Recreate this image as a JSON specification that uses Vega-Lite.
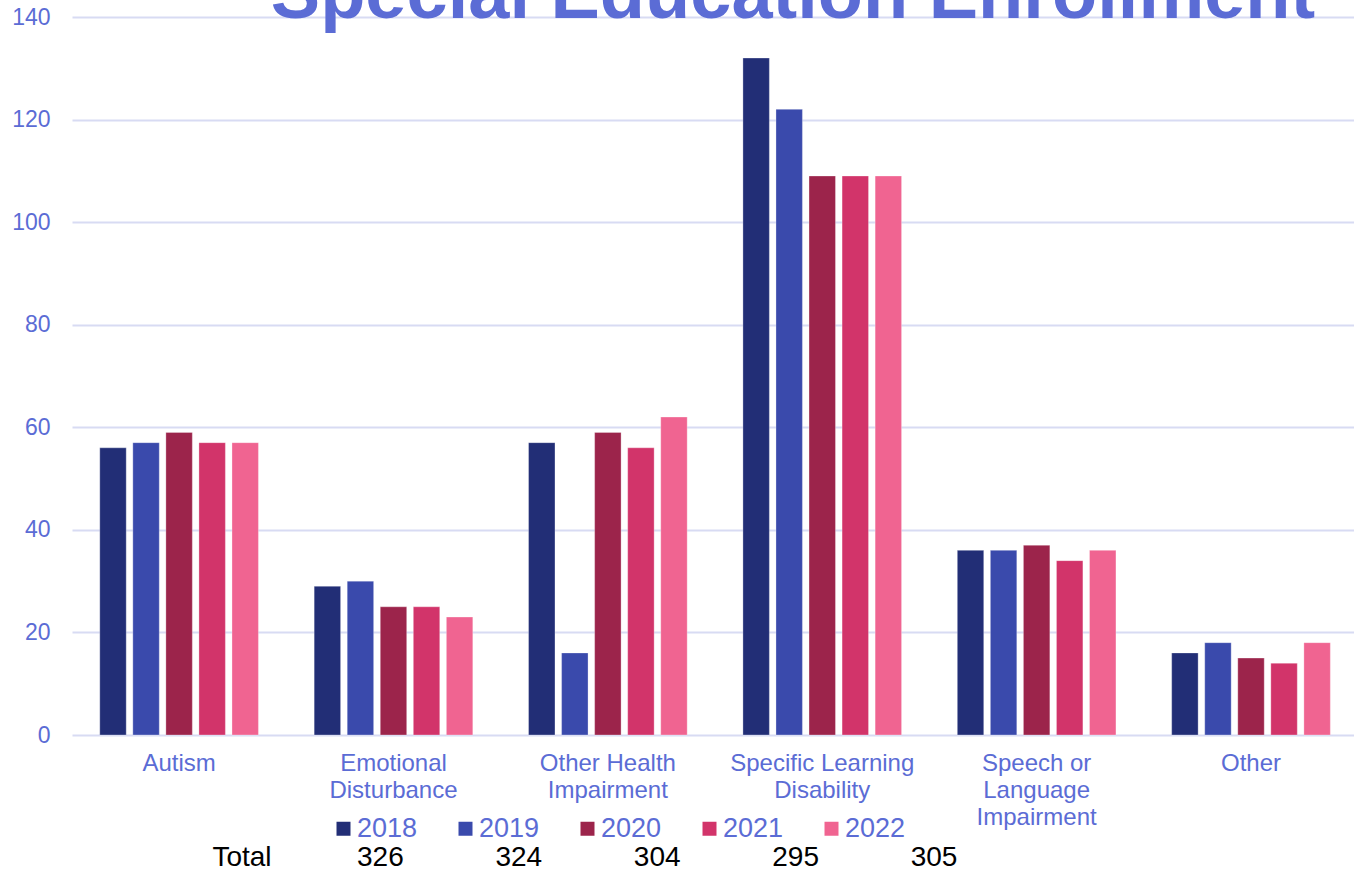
{
  "$schema": "https://vega.github.io/schema/vega-lite/v6.json",
  "autosize": "none",
  "width": 1282,
  "height": 718,
  "padding": {"left": 72, "top": 17, "right": 0, "bottom": 137},
  "background": "white",
  "config": {"font": "Liberation Sans", "view": {"stroke": null}},
  "title": {
    "text": "Special Education Enrollment",
    "font": "Liberation Sans",
    "fontSize": 74,
    "fontWeight": "bold",
    "color": "#5b6cd5",
    "anchor": "middle",
    "frame": "group",
    "offset": -86,
    "baseline": "alphabetic",
    "dx": 80
  },
  "datasets": {
    "enrollment": [
      {"category": "Autism", "year": "2018", "count": 56},
      {"category": "Autism", "year": "2019", "count": 57},
      {"category": "Autism", "year": "2020", "count": 59},
      {"category": "Autism", "year": "2021", "count": 57},
      {"category": "Autism", "year": "2022", "count": 57},
      {"category": "Emotional Disturbance", "year": "2018", "count": 29},
      {"category": "Emotional Disturbance", "year": "2019", "count": 30},
      {"category": "Emotional Disturbance", "year": "2020", "count": 25},
      {"category": "Emotional Disturbance", "year": "2021", "count": 25},
      {"category": "Emotional Disturbance", "year": "2022", "count": 23},
      {"category": "Other Health Impairment", "year": "2018", "count": 57},
      {"category": "Other Health Impairment", "year": "2019", "count": 16},
      {"category": "Other Health Impairment", "year": "2020", "count": 59},
      {"category": "Other Health Impairment", "year": "2021", "count": 56},
      {"category": "Other Health Impairment", "year": "2022", "count": 62},
      {"category": "Specific Learning Disability", "year": "2018", "count": 132},
      {"category": "Specific Learning Disability", "year": "2019", "count": 122},
      {"category": "Specific Learning Disability", "year": "2020", "count": 109},
      {"category": "Specific Learning Disability", "year": "2021", "count": 109},
      {"category": "Specific Learning Disability", "year": "2022", "count": 109},
      {"category": "Speech or Language Impairment", "year": "2018", "count": 36},
      {"category": "Speech or Language Impairment", "year": "2019", "count": 36},
      {"category": "Speech or Language Impairment", "year": "2020", "count": 37},
      {"category": "Speech or Language Impairment", "year": "2021", "count": 34},
      {"category": "Speech or Language Impairment", "year": "2022", "count": 36},
      {"category": "Other", "year": "2018", "count": 16},
      {"category": "Other", "year": "2019", "count": 18},
      {"category": "Other", "year": "2020", "count": 15},
      {"category": "Other", "year": "2021", "count": 14},
      {"category": "Other", "year": "2022", "count": 18}
    ],
    "totals": [
      {"col": "Total", "label": "Total"},
      {"col": "2018", "label": "326"},
      {"col": "2019", "label": "324"},
      {"col": "2020", "label": "304"},
      {"col": "2021", "label": "295"},
      {"col": "2022", "label": "305"}
    ]
  },
  "layer": [
    {
      "data": {"name": "enrollment"},
      "mark": {"type": "bar", "stroke": "#ffffff", "strokeWidth": 0.6, "strokeOpacity": 0.5},
      "encoding": {
        "x": {
          "field": "category",
          "type": "nominal",
          "sort": ["Autism", "Emotional Disturbance", "Other Health Impairment", "Specific Learning Disability", "Speech or Language Impairment", "Other"],
          "scale": {"paddingInner": 0.26, "paddingOuter": 0.12, "align": 0.54},
          "axis": {
            "title": null,
            "domain": false,
            "ticks": false,
            "labelAngle": 0,
            "labelColor": "#5b6cd5",
            "labelFontSize": 24,
            "labelPadding": 16,
            "labelLineHeight": 27,
            "labelLimit": 0,
            "labelExpr": "datum.label == 'Emotional Disturbance' ? ['Emotional', 'Disturbance'] : datum.label == 'Other Health Impairment' ? ['Other Health', 'Impairment'] : datum.label == 'Specific Learning Disability' ? ['Specific Learning', 'Disability'] : datum.label == 'Speech or Language Impairment' ? ['Speech or', 'Language', 'Impairment'] : datum.label"
          }
        },
        "xOffset": {
          "field": "year",
          "type": "nominal",
          "scale": {"paddingInner": 0.2, "paddingOuter": 0}
        },
        "y": {
          "field": "count",
          "type": "quantitative",
          "scale": {"domain": [0, 140], "nice": false},
          "axis": {
            "title": null,
            "values": [0, 20, 40, 60, 80, 100, 120, 140],
            "domain": false,
            "ticks": false,
            "labelColor": "#5b6cd5",
            "labelFontSize": 23,
            "labelPadding": 22,
            "gridColor": "#d8dbf3",
            "gridWidth": 2
          }
        },
        "color": {
          "field": "year",
          "type": "nominal",
          "scale": {
            "domain": ["2018", "2019", "2020", "2021", "2022"],
            "range": ["#222e76", "#3a4aac", "#9c244b", "#d2346a", "#f06491"]
          },
          "legend": {
            "title": null,
            "orient": "none",
            "legendX": 258,
            "legendY": 798,
            "direction": "horizontal",
            "columns": 5,
            "padding": 0,
            "symbolType": "square",
            "symbolSize": 196,
            "symbolStrokeWidth": 0,
            "symbolOpacity": 1,
            "labelFontSize": 27,
            "labelColor": "#5b6cd5",
            "labelOffset": 0,
            "columnPadding": 34
          }
        }
      }
    },
    {
      "data": {"name": "totals"},
      "mark": {"type": "text", "dy": 131, "fontSize": 28, "color": "#000000", "baseline": "alphabetic", "align": "center"},
      "encoding": {
        "x": {
          "field": "col",
          "type": "nominal",
          "sort": null,
          "scale": {"type": "point", "range": [170, 862], "padding": 0},
          "axis": null
        },
        "y": {"datum": 0, "type": "quantitative"},
        "text": {"field": "label"}
      }
    }
  ],
  "resolve": {"scale": {"x": "independent"}}
}
